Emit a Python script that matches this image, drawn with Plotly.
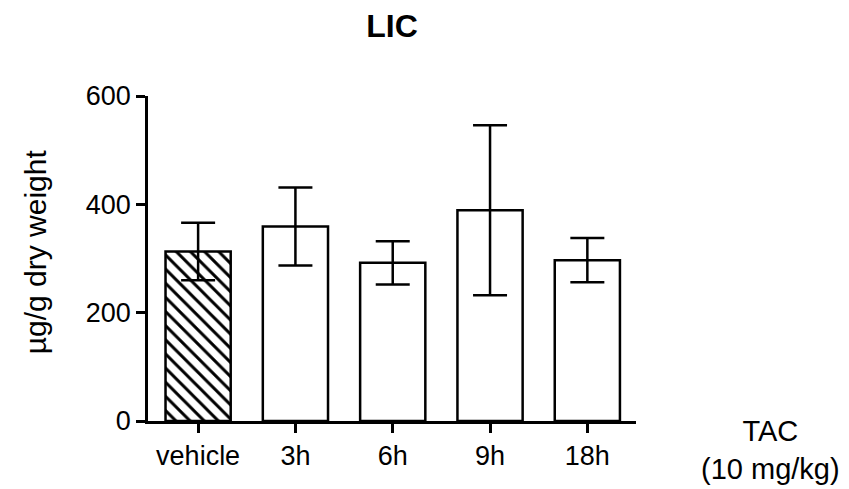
import plotly.graph_objects as go

categories = ["vehicle", "3h", "6h", "9h", "18h"]
means = [313, 359, 292, 389, 297]
sem = [53, 72, 40, 157, 41]
y_ticks = [0, 200, 400, 600]

FONT = "Liberation Sans, Arial, Helvetica, sans-serif"
LW = 2.5

# page body has an 8px margin, so the figure is 8px smaller and shifted
W, H = 841, 481
OFF = 8

patterns = ["\\", "", "", "", ""]

fig = go.Figure()
fig.add_trace(go.Bar(
    x=list(range(len(categories))),
    y=means,
    width=0.67,
    marker=dict(
        color="white",
        line=dict(color="black", width=LW),
        pattern=dict(shape=patterns, fgcolor="black", bgcolor="white",
                     size=10, solidity=0.3, fillmode="replace"),
    ),
    error_y=dict(type="data", array=sem, symmetric=True,
                 color="black", thickness=LW, width=17),
    showlegend=False,
))

fig.update_layout(
    width=W, height=H,
    margin=dict(l=148 - OFF, r=W - (148 - OFF) - 488, t=96 - OFF, b=H - (96 - OFF) - 325, autoexpand=False),
    plot_bgcolor="white", paper_bgcolor="white",
    font=dict(family=FONT, color="black", size=27),
    title=dict(text="<b>LIC</b>", x=(392 - OFF) / W, xanchor="center",
               y=1 - (26 - OFF) / H, yanchor="middle",
               font=dict(size=32, family=FONT, color="black")),
)
fig.update_xaxes(
    range=[-0.515, 4.5],
    tickmode="array", tickvals=list(range(len(categories))), ticktext=categories,
    showline=True, linecolor="black", linewidth=LW,
    ticks="outside", ticklen=9, tickwidth=LW, tickcolor="black",
    showgrid=False, zeroline=False,
    tickfont=dict(size=27),
)
fig.update_yaxes(
    range=[0, 600],
    tickmode="array", tickvals=y_ticks,
    showline=True, linecolor="black", linewidth=LW,
    ticks="outside", ticklen=9, tickwidth=LW, tickcolor="black",
    showgrid=False, zeroline=False,
    tickfont=dict(size=27),
)

fig.add_annotation(
    text="µg/g dry weight", textangle=-90,
    xref="paper", yref="paper", x=(35 - 148) / 488, y=(420.7 - 252) / 325,
    xanchor="center", yanchor="middle", showarrow=False,
    font=dict(size=30, family=FONT, color="black"),
)
fig.add_annotation(
    text="TAC<br>(10 mg/kg)",
    xref="paper", yref="paper", x=(770 - 148) / 488, y=(420.7 - 450) / 325,
    xanchor="center", yanchor="middle", showarrow=False,
    font=dict(size=29, family=FONT, color="black"),
)

fig.write_html("out.html")
